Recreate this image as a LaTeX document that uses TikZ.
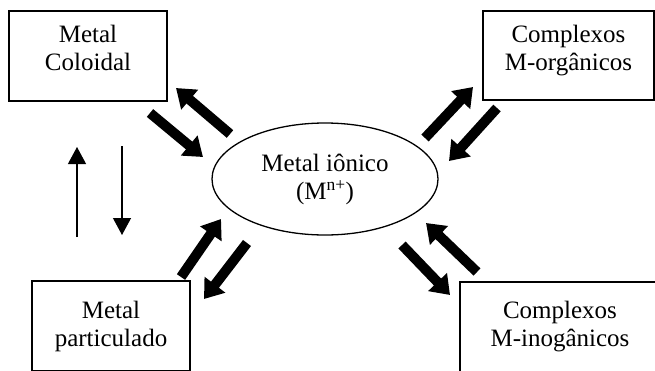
\documentclass[tikz,border=0pt]{standalone}
\usepackage{fontspec}
\setmainfont{Liberation Serif}
\usetikzlibrary{arrows.meta, shapes.geometric}
\tikzstyle{caixa}=[rectangle, draw, line width=1.4pt, align=center, inner sep=0pt]
\tikzstyle{fluxo}=[line width=10pt, -{Triangle[width=25pt, length=18pt]}]
\tikzstyle{fino}=[line width=1.2pt, -{Triangle[width=18pt, length=17pt]}]

\begin{document}
\begin{tikzpicture}[x=1pt, y=-1pt, font=\fontsize{25}{28}\selectfont]
                    \clip (0, 0) rectangle (655, 370);
                    \useasboundingbox (0, 0) rectangle (655, 370);
                    \node[caixa, minimum width=158pt, minimum height=90pt, text depth=16pt] (col) at (88, 56) {Metal\\Coloidal};
                    \node[caixa, minimum width=171pt, minimum height=89pt, text depth=16pt] (org) at (568.5, 55.5) {Complexos\\M-orgânicos};
                    \node[caixa, minimum width=158pt, minimum height=90pt] (par) at (111, 326) {Metal\\particulado};
                    \node[caixa, minimum width=200pt, minimum height=90pt] (ino) at (560, 327) {Complexos\\M-inogânicos};
                    \node[ellipse, draw, line width=1.3pt, minimum width=226pt, minimum height=112pt, inner sep=0pt, align=center] (ion) at (325, 179) {Metal iônico\\(M\textsuperscript{n+})};
                    % setas grossas
                    \coordinate (a1) at (230, 134); \coordinate (a2) at (176, 88);
                    \coordinate (a3) at (150, 113); \coordinate (a4) at (203, 157);
                    \coordinate (b1) at (425, 138); \coordinate (b2) at (473, 87);
                    \coordinate (b3) at (497, 108); \coordinate (b4) at (449, 161);
                    \coordinate (c1) at (181, 277); \coordinate (c2) at (221, 219);
                    \coordinate (c3) at (247, 243); \coordinate (c4) at (204, 299);
                    \coordinate (d1) at (477, 272); \coordinate (d2) at (426, 223);
                    \coordinate (d3) at (402, 245); \coordinate (d4) at (450, 295);
                    \draw[fluxo] (a1) -- (a2);
                    \draw[fluxo] (a3) -- (a4);
                    \draw[fluxo] (b1) -- (b2);
                    \draw[fluxo] (b3) -- (b4);
                    \draw[fluxo] (c1) -- (c2);
                    \draw[fluxo] (c3) -- (c4);
                    \draw[fluxo] (d1) -- (d2);
                    \draw[fluxo] (d3) -- (d4);
                    % setas finas
                    \coordinate (s1) at (77, 237); \coordinate (s2) at (77, 147);
                    \coordinate (s3) at (122, 146); \coordinate (s4) at (122, 235);
                    \draw[fino] (s1) -- (s2);
                    \draw[fino] (s3) -- (s4);
                \end{tikzpicture}
\end{document}
